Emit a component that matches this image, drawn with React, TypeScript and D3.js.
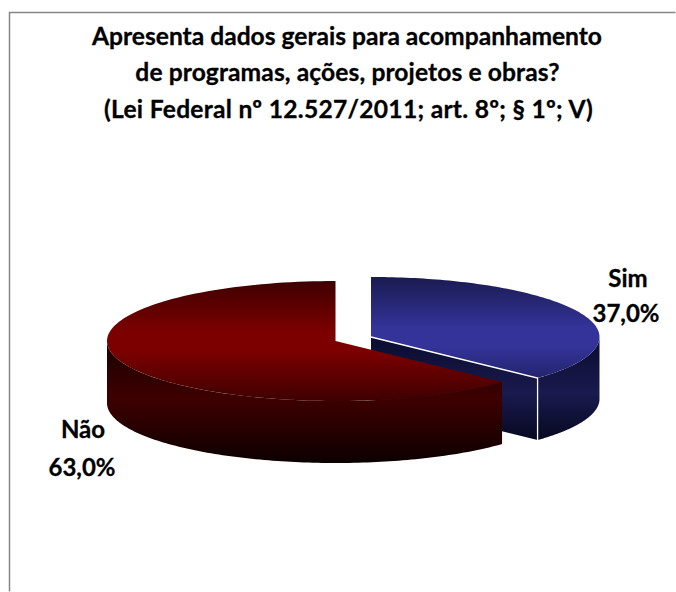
import React from "react";
import * as d3 from "d3";

const categories = ["Sim", "Não"];
const values = [37.0, 63.0];
const valueLabels = ["37,0%", "63,0%"];
const titleLines = [
  "Apresenta dados gerais para acompanhamento",
  "de programas, ações, projetos e obras?",
  "(Lei Federal nº 12.527/2011; art. 8º; § 1º; V)",
];

const W = 676, H = 592;
const font = "Lato, 'Open Sans', sans-serif";
const rx = 228.5, ry = 60, depth = 62;
const centers = [{ x: 371, y: 337 }, { x: 335.5, y: 341 }];
const pie = d3.pie<number>().sort(null)(values);

const pt = (c: { x: number; y: number }, a: number, dy = 0): [number, number] => [
  c.x + rx * Math.sin(a),
  c.y - ry * Math.cos(a) + dy,
];
const line = d3.line();
const arcPts = (c: { x: number; y: number }, a0: number, a1: number, dy = 0) =>
  d3.range(0, 121).map((i) => pt(c, a0 + ((a1 - a0) * i) / 120, dy));

const topPath = (c: { x: number; y: number }, a0: number, a1: number) =>
  line([[c.x, c.y], ...arcPts(c, a0, a1)])! + "Z";
const sidePath = (c: { x: number; y: number }, a0: number, a1: number) =>
  line([...arcPts(c, a0, a1), ...arcPts(c, a1, a0, depth)])! + "Z";

const Grad = ({ id, y1, y2, stops }: { id: string; y1: number; y2: number; stops: [number, string][] }) => (
  <linearGradient id={id} gradientUnits="userSpaceOnUse" x1={0} x2={0} y1={y1} y2={y2}>
    {stops.map(([o, c], i) => <stop key={i} offset={o} stopColor={c} />)}
  </linearGradient>
);

export default function App() {
  const [sim, nao] = pie;
  const [cb, cr] = centers;
  const bEnd = pt(cb, sim.endAngle);
  const half = Math.PI / 2;
  return (
    <svg width={W} height={H} viewBox={`0 0 ${W} ${H}`} style={{ position: "absolute", left: 0, top: 0, background: "#fff" }}>
      <defs>
        <Grad id="blueTop" y1={276} y2={398} stops={[[0, "#191a4e"], [0.42, "#333399"], [0.58, "#333399"], [1, "#191a4e"]]} />
        <Grad id="blueSide" y1={335} y2={441} stops={[[0, "#0a0b2c"], [0.55, "#191a4e"], [1, "#07081f"]]} />
        <Grad id="redTop" y1={280} y2={402} stops={[[0, "#3d0000"], [0.42, "#7c0000"], [0.58, "#7c0000"], [1, "#3d0000"]]} />
        <Grad id="redSide" y1={343} y2={463} stops={[[0, "#1a0000"], [0.45, "#3d0000"], [0.6, "#320000"], [1, "#0c0000"]]} />
      </defs>
      <path d="M675.5 12.5H9.5V591.5" fill="none" stroke="#868686" strokeWidth={1.5} />

      {/* Sim slice */}
      <path d={line([[cb.x, cb.y], bEnd, [bEnd[0], bEnd[1] + depth], [cb.x, cb.y + depth]])! + "Z"} fill="url(#blueSide)" />
      <path d={sidePath(cb, half, sim.endAngle)} fill="url(#blueSide)" />
      <path d={topPath(cb, sim.startAngle, sim.endAngle)} fill="url(#blueTop)" />
      <path d={line([[cb.x, cb.y], bEnd, [bEnd[0], bEnd[1] + depth]])!} fill="none" stroke="#fff" strokeWidth={1.3} />

      {/* Não slice */}
      <path d={sidePath(cr, nao.startAngle, 1.5 * Math.PI)} fill="url(#redSide)" />
      <path d={topPath(cr, nao.startAngle, nao.endAngle)} fill="url(#redTop)" />

      <g fontFamily={font} fontWeight={700} fill="#000" stroke="#000" strokeWidth={0.3} textAnchor="middle">
        {titleLines.map((t, i) => (
          <text key={i} x={[347, 347.5, 348.5][i]} y={[45, 81, 118][i]} fontSize={24.6} letterSpacing={[0, 0.1, 0.28][i]}>{t}</text>
        ))}
        <text x={628} y={287} fontSize={24}>{categories[0]}</text>
        <text x={626} y={322} fontSize={24}>{valueLabels[0]}</text>
        <text x={83} y={438} fontSize={24}>{categories[1]}</text>
        <text x={82} y={476} fontSize={24}>{valueLabels[1]}</text>
      </g>
    </svg>
  );
}
